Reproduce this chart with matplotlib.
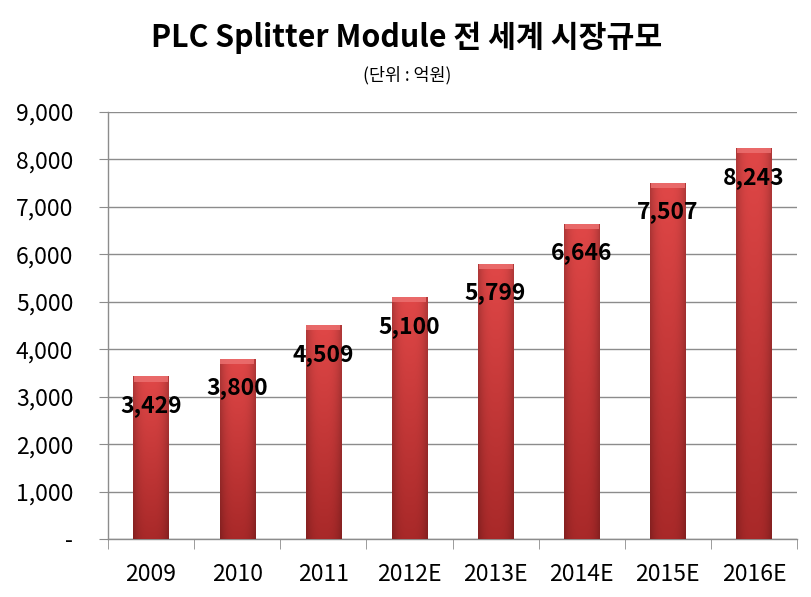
import matplotlib
matplotlib.use("Agg")
import matplotlib.pyplot as plt
import numpy as np

plt.rcParams['font.family'] = ['Noto Sans CJK KR', 'DejaVu Sans']

categories = ['2009', '2010', '2011', '2012E', '2013E', '2014E', '2015E', '2016E']
values = [3429, 3800, 4509, 5100, 5799, 6646, 7507, 8243]
value_labels = ['3,429', '3,800', '4,509', '5,100', '5,799', '6,646', '7,507', '8,243']
yticks = [0, 1000, 2000, 3000, 4000, 5000, 6000, 7000, 8000, 9000]
ytick_labels = ['-', '1,000', '2,000', '3,000', '4,000', '5,000', '6,000', '7,000', '8,000', '9,000']
title = 'PLC Splitter Module 전 세계 시장규모'
subtitle = '(단위 : 억원)'

fig = plt.figure(figsize=(8.11, 5.97), dpi=100)
ax = fig.add_axes([108/811, 1 - 539/597, (797-108)/811, (539-112)/597])

x = np.arange(len(categories))
bars = ax.bar(x, values, width=0.41, color='#cc3535', edgecolor='none', zorder=3)

# shaded fill: vertical (light top -> darker bottom) and horizontal (darker edges)
top_c = np.array([0.88, 0.28, 0.28])
bot_c = np.array([0.66, 0.16, 0.16])
hx = np.linspace(-1, 1, 48)
hfac = 1.0 - 0.22 * np.abs(hx) ** 3
for b in bars:
    x0, w, h = b.get_x(), b.get_width(), b.get_height()
    ny = 200
    t = np.linspace(0, 1, ny)[:, None, None]  # 0 bottom -> 1 top
    col = bot_c + (top_c - bot_c) * t
    img = np.clip(col * hfac[None, :, None], 0, 1)
    im = ax.imshow(img, extent=[x0, x0 + w, 0, h], aspect='auto', zorder=3.5,
                   origin='lower', interpolation='bilinear')
    im.set_clip_path(b)
    # bevelled top cap
    ax.bar(x0 + w/2, 110, bottom=h - 110, width=w * 0.96, color='#ec7070',
           edgecolor='none', zorder=4, alpha=0.85)

for xi, v, lab in zip(x, values, value_labels):
    ax.annotate(lab, (xi, v), xytext=(0, -21), textcoords='offset points',
                ha='center', va='center', fontsize=16.5, fontweight='bold', color='black', zorder=6)

ax.set_xlim(-0.5, len(categories) - 0.5)
ax.set_ylim(0, 9000)
ax.set_yticks(yticks)
ax.set_yticklabels(ytick_labels, fontsize=16.5)
ax.yaxis.grid(True, color='#8c8c8c', linewidth=1.0, zorder=0)
ax.set_axisbelow(True)

ax.set_xticks(x)
ax.set_xticklabels(categories, fontsize=16.5)
ax.set_xticks(np.arange(-0.5, len(categories)), minor=True)
ax.tick_params(axis='x', which='major', length=0, pad=17)
ax.tick_params(axis='x', which='minor', length=7, color='#8c8c8c', direction='out')
ax.tick_params(axis='y', length=6.5, color='#8c8c8c', direction='out', pad=18.5)

for s in ['top', 'right']:
    ax.spines[s].set_visible(False)
for s in ['left', 'bottom']:
    ax.spines[s].set_color('#8c8c8c')
    ax.spines[s].set_linewidth(1.0)

fig.text(407/811, 1 - 38/597, title, ha='center', va='center', fontsize=21.8, fontweight='bold')
fig.text(407/811, 1 - 75/597, subtitle, ha='center', va='center', fontsize=12.5)

fig.savefig('out.png', dpi=100)
